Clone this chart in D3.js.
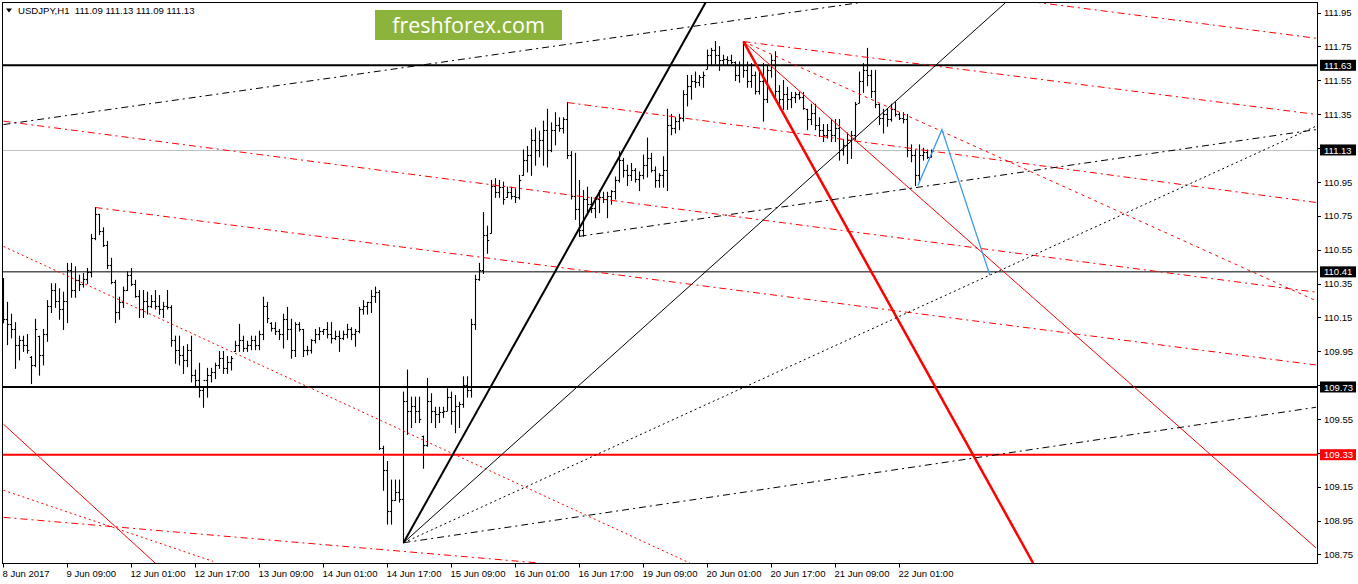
<!DOCTYPE html>
<html><head><meta charset="utf-8">
<script src="https://cdn.jsdelivr.net/npm/d3@7"></script>
<style>html,body{margin:0;padding:0;background:#fff;overflow:hidden}</style>
</head><body>
<svg id="chart" width="1358" height="584"></svg>
<script>
// ---------------- DATA ----------------
const symbolTitle = "USDJPY,H1  111.09 111.13 111.09 111.13";
const watermark = "freshforex.com";

const openP = [
110.24,110.13,110.10,110.07,109.98,110.01,109.98,109.91,109.86,110.03,
109.92,110.04,110.21,110.30,110.24,110.19,110.24,110.42,110.30,110.36,
110.34,110.37,110.41,110.61,110.75,110.65,110.57,110.45,110.35,110.17,
110.23,110.30,110.39,110.34,110.27,110.19,110.24,110.21,110.24,110.21,
110.19,110.21,110.20,110.01,109.95,109.92,109.89,109.95,109.80,109.77,
109.71,109.77,109.80,109.82,109.86,109.90,109.84,109.88,109.94,109.98,
110.01,109.96,109.98,110.01,109.98,110.04,110.21,110.11,110.08,110.06,
110.04,110.13,110.07,109.95,110.10,110.07,109.95,109.95,110.01,110.04,
110.06,110.07,110.04,110.02,110.03,110.02,110.04,110.07,110.04,110.06,
110.19,110.21,110.23,110.27,110.29,109.37,109.24,109.00,109.06,109.11,
109.07,109.65,109.59,109.62,109.59,109.44,109.39,109.65,109.59,109.57,
109.58,109.59,109.67,109.59,109.62,109.63,109.74,109.71,110.10,110.37,
110.42,110.63,110.64,110.92,110.88,110.91,110.85,110.88,110.86,110.85,
110.98,111.07,111.10,111.19,111.13,111.19,111.25,111.13,111.25,111.28,
111.26,111.31,111.10,110.86,110.78,110.66,110.84,110.81,110.79,110.84,
110.85,110.84,110.86,110.89,110.95,111.07,111.01,110.98,111.01,110.96,
110.98,111.04,111.08,111.01,110.95,110.98,111.01,111.28,111.26,111.30,
111.32,111.46,111.51,111.54,111.53,111.56,111.61,111.69,111.72,111.69,
111.66,111.67,111.66,111.65,111.57,111.63,111.60,111.54,111.57,111.48,
111.54,111.43,111.60,111.66,111.48,111.43,111.46,111.43,111.44,111.46,
111.44,111.37,111.31,111.35,111.28,111.25,111.22,111.25,111.22,111.26,
111.13,111.16,111.19,111.22,111.41,111.54,111.60,111.57,111.48,111.40,
111.32,111.34,111.31,111.37,111.34,111.32,111.31,111.13,111.10,110.98,
111.10,111.12,111.09];

const highP = [
110.37,110.23,110.16,110.11,110.03,110.03,110.04,109.91,110.13,110.03,
110.07,110.24,110.34,110.34,110.31,110.29,110.46,110.46,110.44,110.39,
110.40,110.43,110.63,110.79,110.75,110.67,110.59,110.49,110.36,110.26,
110.32,110.41,110.43,110.36,110.30,110.30,110.29,110.27,110.30,110.27,
110.23,110.30,110.21,110.03,110.03,109.97,109.98,110.03,109.83,109.87,
109.73,109.84,109.84,109.87,109.94,109.94,109.91,109.91,110.00,110.10,
110.03,110.00,110.03,110.03,110.06,110.26,110.23,110.11,110.11,110.07,
110.16,110.20,110.13,110.11,110.11,110.07,109.97,110.01,110.07,110.08,
110.07,110.11,110.11,110.06,110.06,110.06,110.10,110.08,110.07,110.20,
110.24,110.23,110.30,110.32,110.30,109.38,109.29,109.18,109.18,109.18,
109.70,109.83,109.67,109.67,109.67,109.44,109.78,109.69,109.61,109.61,
109.61,109.72,109.70,109.68,109.64,109.79,109.79,110.13,110.39,110.46,
110.76,110.68,110.95,110.96,110.95,110.94,110.91,110.91,110.90,110.98,
111.13,111.15,111.25,111.26,111.24,111.30,111.37,111.29,111.35,111.32,
111.32,111.41,111.12,111.11,110.95,110.89,110.91,110.85,110.85,110.89,
110.88,110.88,110.89,110.97,111.12,111.08,111.04,111.05,111.02,111.00,
111.10,111.20,111.11,111.03,110.99,111.09,111.37,111.34,111.32,111.34,
111.48,111.57,111.57,111.59,111.57,111.59,111.72,111.73,111.77,111.74,
111.69,111.68,111.69,111.65,111.65,111.77,111.65,111.64,111.59,111.60,
111.64,111.63,111.69,111.71,111.51,111.54,111.50,111.47,111.47,111.47,
111.47,111.37,111.40,111.40,111.32,111.28,111.28,111.31,111.31,111.31,
111.19,111.23,111.24,111.41,111.59,111.64,111.73,111.60,111.60,111.40,
111.37,111.37,111.40,111.41,111.35,111.35,111.34,111.16,111.13,111.16,
111.14,111.13,111.13];

const lowP = [
110.11,109.98,110.02,109.84,109.89,109.94,109.93,109.75,109.85,109.80,
109.86,110.00,110.17,110.20,110.13,110.07,110.11,110.26,110.26,110.30,
110.32,110.34,110.38,110.60,110.63,110.56,110.43,110.34,110.11,110.13,
110.20,110.30,110.33,110.26,110.14,110.14,110.16,110.20,110.19,110.16,
110.14,110.19,109.97,109.87,109.86,109.81,109.85,109.76,109.73,109.67,
109.61,109.67,109.76,109.78,109.84,109.81,109.81,109.83,109.94,109.94,
109.94,109.94,109.95,109.95,109.95,110.01,110.11,110.06,110.04,110.01,
109.96,110.01,109.90,109.91,110.06,109.91,109.92,109.93,109.99,110.01,
110.04,110.02,109.99,110.01,109.94,110.01,110.02,110.01,109.97,110.05,
110.16,110.16,110.17,110.23,109.36,109.12,108.92,108.92,109.06,109.05,
108.81,109.45,109.49,109.52,109.52,109.25,109.38,109.52,109.49,109.52,
109.55,109.59,109.51,109.46,109.49,109.61,109.67,109.67,110.07,110.36,
110.40,110.52,110.64,110.85,110.85,110.81,110.85,110.84,110.82,110.84,
110.98,111.00,110.98,111.04,111.09,111.04,111.03,111.12,111.16,111.24,
111.23,111.08,110.84,110.72,110.62,110.62,110.75,110.76,110.73,110.76,
110.82,110.73,110.81,110.84,110.94,110.97,110.92,110.95,110.94,110.89,
110.96,110.97,111.00,110.91,110.91,110.91,110.89,111.22,111.23,111.25,
111.30,111.39,111.43,111.50,111.51,111.50,111.61,111.63,111.64,111.60,
111.63,111.63,111.64,111.54,111.53,111.56,111.50,111.50,111.46,111.46,
111.30,111.41,111.56,111.44,111.38,111.37,111.37,111.38,111.41,111.43,
111.37,111.25,111.28,111.25,111.21,111.18,111.20,111.18,111.18,111.07,
111.10,111.05,111.08,111.19,111.41,111.47,111.51,111.44,111.38,111.28,
111.23,111.27,111.30,111.33,111.31,111.29,111.09,111.06,110.92,110.94,
111.07,111.08,111.09];

const closeP = [
110.13,110.10,110.07,109.98,110.01,109.98,109.95,109.86,110.07,109.92,
110.04,110.21,110.30,110.24,110.19,110.24,110.42,110.30,110.36,110.34,
110.37,110.41,110.61,110.75,110.65,110.57,110.45,110.35,110.17,110.23,
110.30,110.39,110.34,110.27,110.19,110.24,110.21,110.24,110.21,110.19,
110.21,110.20,110.01,109.95,109.92,109.89,109.95,109.80,109.77,109.71,
109.77,109.80,109.82,109.86,109.90,109.84,109.88,109.90,109.98,110.01,
109.96,109.98,110.01,109.98,110.04,110.21,110.14,110.08,110.06,110.04,
110.13,110.07,109.95,110.10,110.07,109.95,109.95,110.01,110.04,110.06,
110.07,110.04,110.02,110.03,110.02,110.04,110.07,110.04,110.06,110.19,
110.21,110.23,110.27,110.29,109.37,109.24,109.00,109.06,109.11,109.07,
109.65,109.59,109.62,109.59,109.54,109.39,109.65,109.59,109.57,109.58,
109.59,109.67,109.59,109.62,109.63,109.74,109.71,110.10,110.37,110.42,
110.63,110.60,110.92,110.88,110.91,110.84,110.88,110.86,110.85,110.95,
111.07,111.10,111.19,111.13,111.19,111.25,111.13,111.25,111.28,111.26,
111.31,111.10,110.86,110.78,110.66,110.84,110.81,110.79,110.84,110.85,
110.84,110.86,110.89,110.95,111.07,111.01,110.98,111.01,110.96,110.98,
111.04,111.08,111.01,110.95,110.98,111.01,111.28,111.26,111.30,111.32,
111.46,111.51,111.54,111.53,111.56,111.57,111.69,111.72,111.69,111.66,
111.67,111.66,111.65,111.57,111.63,111.60,111.54,111.57,111.48,111.54,
111.43,111.60,111.66,111.48,111.43,111.46,111.43,111.44,111.46,111.44,
111.38,111.31,111.35,111.28,111.25,111.22,111.25,111.22,111.26,111.13,
111.16,111.19,111.22,111.40,111.54,111.60,111.57,111.48,111.40,111.32,
111.34,111.31,111.37,111.34,111.32,111.31,111.13,111.10,110.98,111.10,
111.12,111.09,111.13];

const timeLabels = ["8 Jun 2017","9 Jun 09:00","12 Jun 01:00","12 Jun 17:00","13 Jun 09:00","14 Jun 01:00","14 Jun 17:00","15 Jun 09:00","16 Jun 01:00","16 Jun 17:00","19 Jun 09:00","20 Jun 01:00","20 Jun 17:00","21 Jun 09:00","22 Jun 01:00"];
const timeLabelBars = [0,16,32,48,64,80,96,112,128,144,160,176,192,208,224];
const priceTicks = [111.95,111.75,111.55,111.35,111.15,110.95,110.75,110.55,110.35,110.15,109.95,109.75,109.55,109.35,109.15,108.95,108.75];

const blackLevelsThick = [111.63, 109.73];
const blackLevelsThin = [110.41];
const redLevel = [109.33];
const bidLevel = [111.13];

// trend lines as [barIndex, price] anchor pairs
const blackThick      = [[100,108.81],[175.5,112.00]];
const blackThin       = [[100,108.81],[250.5,112.00]];
const blackDotted     = [[100,108.81],[328.1,111.27]];
const blackDashLow    = [[100,108.81],[328.1,109.61]];
const blackChanMid    = [[144,110.62],[328.1,111.25]];
const blackChanTop    = [[0,111.28],[214.1,112.00]];

const redChanA  = [[23,110.79],[328.1,109.86]];
const redChanB  = [[0,111.30],[328.1,110.29]];
const redChanC  = [[141,111.41],[328.1,110.82]];
const redChanD  = [[249,112.03],[328.1,111.79]];
const redChanE  = [[185,111.77],[328.1,111.34]];
const redFanDash  = [[185,111.77],[328.1,110.24]];
const redFanThin  = [[185,111.77],[328.1,108.78]];
const redFanThick = [[185,111.77],[257.4,108.69]];
const redDotA   = [[0,110.56],[171.6,108.69]];
const redDotB   = [[0,109.12],[52.4,108.70]];
const redDashLow= [[0,108.96],[134.1,108.69]];
const redThinLow= [[0,109.51],[37.9,108.69]];

const blueProjection = [[228.6,110.92],[234.6,111.25],[246.6,110.39]];

// ---------------- DRAWING ----------------
const svg = d3.select("#chart");
const FONT = "'Liberation Sans', Arial, sans-serif";
const frame = {left: 2.5, right: 1317.5, top: 2.5, bottom: 563.5};

const x = d3.scaleLinear().domain([0, 328]).range([3.5, 1315.5]);
const y = d3.scaleLinear().domain([111.63, 109.33]).range([65.3, 454.7]);

svg.append("rect").attr("width",1358).attr("height",584).attr("fill","#fff");

svg.append("defs").append("clipPath").attr("id","plotClip")
  .append("rect").attr("x",frame.left+0.5).attr("y",frame.top+0.5)
  .attr("width",frame.right-frame.left-1).attr("height",frame.bottom-frame.top-1);

const plot = svg.append("g").attr("clip-path","url(#plotClip)");

// bid line (behind bars)
plot.selectAll("line.bid").data(bidLevel).join("line")
  .attr("x1",frame.left).attr("x2",frame.right)
  .attr("y1",d=>Math.round(y(d))+0.5).attr("y2",d=>Math.round(y(d))+0.5)
  .attr("stroke","#c0c0c0").attr("stroke-width",1);

// OHLC bars
const idx = d3.range(openP.length);
const bars = plot.append("g").attr("stroke","#000").attr("stroke-width",1.1);
bars.selectAll("line.hl").data(idx).join("line")
  .attr("x1",i=>x(i)).attr("x2",i=>x(i))
  .attr("y1",i=>y(highP[i])-0.5).attr("y2",i=>y(lowP[i])+0.5);
bars.selectAll("line.o").data(idx).join("line")
  .attr("x1",i=>x(i)-1.7).attr("x2",i=>x(i))
  .attr("y1",i=>Math.round(y(openP[i]))+0.5).attr("y2",i=>Math.round(y(openP[i]))+0.5);
bars.selectAll("line.c").data(idx).join("line")
  .attr("x1",i=>x(i)).attr("x2",i=>x(i)+1.7)
  .attr("y1",i=>Math.round(y(closeP[i]))+0.5).attr("y2",i=>Math.round(y(closeP[i]))+0.5);

// horizontal levels
function hLevels(data, color, width){
  plot.append("g").selectAll("line").data(data).join("line")
    .attr("x1",frame.left).attr("x2",frame.right)
    .attr("y1",d=>y(d)).attr("y2",d=>y(d))
    .attr("stroke",color).attr("stroke-width",width);
}
hLevels(blackLevelsThick,"#000",2);
hLevels(blackLevelsThin,"#000",1);
hLevels(redLevel,"#ff0000",2);

// trend lines
const lineGen = d3.line().x(d=>x(d[0])).y(d=>y(d[1]));
function trend(data, color, width, dash){
  const p = plot.append("path").datum(data).attr("d",lineGen)
    .attr("fill","none").attr("stroke",color).attr("stroke-width",width);
  if (dash) p.attr("stroke-dasharray",dash);
  return p;
}
const DASHDOT = "7,4,2,4";
const DOT = "2,3";
trend(redChanA,"#ff0000",1,DASHDOT);
trend(redChanB,"#ff0000",1,DASHDOT);
trend(redChanC,"#ff0000",1,DASHDOT);
trend(redChanD,"#ff0000",1,DASHDOT);
trend(redChanE,"#ff0000",1,DASHDOT);
trend(redFanDash,"#ff0000",1,"3,4");
trend(redFanThin,"#ff0000",1,null);
trend(redFanThick,"#ff0000",2.5,null);
trend(redDotA,"#ff0000",1,DOT);
trend(redDotB,"#ff0000",1,DOT);
trend(redDashLow,"#ff0000",1,DASHDOT);
trend(redThinLow,"#ff0000",1,null);

trend(blackThick,"#000",2,null);
trend(blackThin,"#000",1,null);
trend(blackDotted,"#000",1,DOT);
trend(blackDashLow,"#000",1,DASHDOT);
trend(blackChanMid,"#000",1,DASHDOT);
trend(blackChanTop,"#000",1,DASHDOT);

trend(blueProjection,"#3d9be9",1.3,null);

// frame
svg.append("rect").attr("x",frame.left).attr("y",frame.top)
  .attr("width",frame.right-frame.left).attr("height",frame.bottom-frame.top)
  .attr("fill","none").attr("stroke","#000").attr("stroke-width",1);

// right price axis
const yAxis = svg.append("g").attr("font-family",FONT).attr("font-size","9.5px");
yAxis.selectAll("line").data(priceTicks).join("line")
  .attr("x1",frame.right).attr("x2",frame.right+3.5)
  .attr("y1",d=>Math.round(y(d)+1.5)+0.5).attr("y2",d=>Math.round(y(d)+1.5)+0.5)
  .attr("stroke","#000");
yAxis.selectAll("text").data(priceTicks).join("text")
  .attr("x",1324).attr("y",d=>y(d)+5.2).attr("fill","#000")
  .text(d=>d3.format(".2f")(d));

// level tags
function tag(data, bg){
  const g = svg.append("g").attr("font-family",FONT).attr("font-size","9.5px");
  g.selectAll("rect").data(data).join("rect")
    .attr("x",1320).attr("y",d=>y(d)-5.5).attr("width",36).attr("height",11).attr("fill",bg);
  g.selectAll("text").data(data).join("text")
    .attr("x",1324).attr("y",d=>y(d)+3.6).attr("fill","#fff")
    .text(d=>d3.format(".2f")(d));
}
tag(blackLevelsThick.concat(blackLevelsThin),"#000");
tag(bidLevel,"#000");
tag(redLevel,"#ff0000");

// bottom time axis
const xAxis = svg.append("g").attr("font-family",FONT).attr("font-size","9.5px");
xAxis.selectAll("line").data(timeLabelBars).join("line")
  .attr("x1",i=>x(i)).attr("x2",i=>x(i))
  .attr("y1",frame.bottom).attr("y2",frame.bottom+4).attr("stroke","#000");
xAxis.selectAll("text").data(timeLabelBars).join("text")
  .attr("x",i=>x(i)-1).attr("y",577).attr("fill","#000")
  .text((d,k)=>timeLabels[k]);

// title
svg.append("path").attr("d","M6,8.5L12,8.5L9,12.5Z").attr("fill","#000");
svg.append("text").attr("x",18).attr("y",14).attr("font-family",FONT)
  .attr("font-size","9.6px").attr("fill","#000").attr("xml:space","preserve")
  .style("white-space","pre").text(symbolTitle);

// watermark
const wm = svg.append("g");
wm.append("rect").attr("x",375).attr("y",10).attr("width",187).attr("height",30).attr("fill","#8cb43c");
wm.append("text").attr("x",468.5).attr("y",33).attr("text-anchor","middle")
  .attr("font-family","'Open Sans', sans-serif").attr("font-size","21.5px").attr("fill","#fff")
  .text(watermark);
</script>
</body></html>
